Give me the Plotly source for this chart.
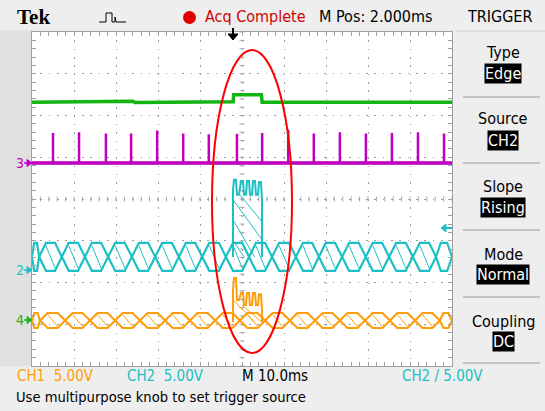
import plotly.graph_objects as go

# ---------------- data (screen divisions: x 0..10, y -4..4) ----------------
green_x = [0.0, 1.1, 1.15, 2.4, 2.45, 3.7, 3.75, 4.79, 4.80, 5.46, 5.48, 6.6, 6.65, 8.1, 8.15, 10.0]
green_y = [2.32, 2.32, 2.34, 2.34, 2.31, 2.31, 2.33, 2.33, 2.50, 2.50, 2.32, 2.32, 2.34, 2.34, 2.32, 2.32]

mag_base = 0.86
mag_spike_x = [0.50, 1.12, 1.76, 2.36, 2.98, 3.60, 4.21, 4.88, 5.48, 6.10, 6.71, 7.33, 7.95, 8.57, 9.19, 9.81]
mag_spike_top = [1.58, 1.60, 1.57, 1.57, 1.64, 1.57, 1.55, 1.56, 1.58, 1.66, 1.57, 1.60, 1.57, 1.58, 1.60, 1.57]

cyan_cross = [0.17, 0.71, 1.26, 1.81, 2.38, 2.93, 3.50, 4.05, 4.62, 5.17, 5.71, 6.29, 6.83, 7.38, 7.95, 8.50, 9.07, 9.62]
cyan_hi = -1.05
cyan_lo = -1.72

orange_cross = [0.19, 0.79, 1.38, 1.98, 2.57, 3.17, 3.76, 4.36, 4.95, 5.55, 6.14, 6.74, 7.33, 7.93, 8.52, 9.12, 9.71]
orange_hi = -2.73
orange_lo = -3.09

cyan_burst_x = [4.786, 4.786, 4.810, 4.857, 4.881, 4.929, 4.976, 5.024, 5.048, 5.095, 5.119, 5.167,
                5.190, 5.238, 5.262, 5.310, 5.333, 5.381, 5.405, 5.452, 5.476, 5.476]
cyan_burst_y = [-1.39, 0.22, 0.46, 0.46, 0.10, 0.10, 0.43, 0.43, 0.10, 0.10, 0.43, 0.43,
                0.10, 0.10, 0.43, 0.43, 0.10, 0.10, 0.41, 0.41, -0.02, -1.39]
cyan_burst_hatch_x = [4.79, 5.48, None, 4.79, 5.30, None, 4.95, 5.48, None, 4.79, 5.05]
cyan_burst_hatch_y = [-0.02, -0.98, None, -0.50, -1.39, None, 0.10, -0.55, None, -1.00, -1.39]

orange_burst_x = cyan_burst_x
orange_burst_y = [-2.95, -2.18, -1.89, -1.89, -2.42, -2.42, -2.25, -2.25, -2.54, -2.54, -2.25, -2.25,
                  -2.54, -2.54, -2.25, -2.25, -2.54, -2.54, -2.28, -2.28, -2.66, -2.95]
orange_burst_hatch_x = [4.79, 5.30, None, 5.00, 5.48]
orange_burst_hatch_y = [-2.42, -2.95, None, -2.54, -2.95]

GREEN, MAG, CYAN, ORANGE = "#12B512", "#C000C0", "#1CC0C4", "#FF9E0A"

# ---------------- helpers ----------------
W, H = 545, 411
PX0, PX1, PY0, PY1 = 32, 452, 32, 366


def rope(cross, hi, lo, phase):
    xs, ys = [0.0], [(hi + lo) / 2]
    pts = [0.0] + cross + [10.0]
    for i in range(len(pts) - 1):
        a, b = pts[i], pts[i + 1]
        lvl = hi if (i + phase) % 2 == 0 else lo
        g = b - a
        xs += [a + 0.3 * g, a + 0.7 * g, b]
        ys += [lvl, lvl, (hi + lo) / 2]
    return xs, ys


def hatch(cross, hi, lo):
    xs, ys = [], []
    pts = cross
    for i in range(len(pts) - 1):
        a, b = pts[i], pts[i + 1]
        g = b - a
        xs += [a + 0.3 * g, a + 0.7 * g, None]
        ys += [hi - 0.1 * (hi - lo), lo + 0.1 * (hi - lo), None]
    return xs, ys


fig = go.Figure()


def line(x, y, color, w=2.5):
    fig.add_trace(go.Scatter(x=x, y=y, mode="lines", line=dict(color=color, width=w, shape="linear"),
                             hoverinfo="skip", showlegend=False, connectgaps=False))


# green
line(green_x, green_y, GREEN, 3.5)

# magenta with spikes
mx, my = [0.0], [mag_base]
for sx, st in zip(mag_spike_x, mag_spike_top):
    mx += [sx, sx, sx]
    my += [mag_base, st, mag_base]
mx.append(10.0)
my.append(mag_base)
line(mx, my, MAG, 2.5)
line([0, 10], [mag_base, mag_base], MAG, 3.5)

# cyan rope
for ph in (0, 1):
    x, y = rope(cyan_cross, cyan_hi, cyan_lo, ph)
    line(x, y, CYAN, 2.2)
hx, hy = hatch(cyan_cross, cyan_hi, cyan_lo)
line(hx, hy, CYAN, 1)
line(cyan_burst_x, cyan_burst_y, CYAN, 2)
line(cyan_burst_hatch_x, cyan_burst_hatch_y, CYAN, 1)

# orange rope
for ph in (0, 1):
    x, y = rope(orange_cross, orange_hi, orange_lo, ph)
    line(x, y, ORANGE, 2.2)
hx, hy = hatch(orange_cross, orange_hi, orange_lo)
line(hx, hy, ORANGE, 1)
line(orange_burst_x, orange_burst_y, ORANGE, 2)
line(orange_burst_hatch_x, orange_burst_hatch_y, ORANGE, 1)


def px(x):
    return x / W


def py(y):
    return 1 - y / H


shapes = []
shapes.append(dict(type="rect", xref="paper", yref="paper", x0=0, x1=px(PX0), y0=py(PY1), y1=py(30),
                   fillcolor="#E1E1E1", line_width=0, layer="below"))
for k in range(-20, 21):
    yy = k * 0.2
    shapes.append(dict(type="line", xref="x", yref="y", x0=5 - 0.06, x1=5 + 0.06, y0=yy, y1=yy,
                       line=dict(color="#A8A8A8", width=1), layer="below"))
for k in range(0, 51):
    xx = k * 0.2
    shapes.append(dict(type="line", xref="x", yref="y", x0=xx, x1=xx, y0=-0.06, y1=0.06,
                       line=dict(color="#A8A8A8", width=1), layer="below"))
for yy in [97, 163, 230, 297, 363]:
    shapes.append(dict(type="line", xref="paper", yref="paper", x0=px(463), x1=px(540), y0=py(yy), y1=py(yy),
                       line=dict(color="#C4C4C4", width=2)))
shapes.append(dict(type="line", xref="paper", yref="paper", x0=px(455), x1=px(545), y0=py(31), y1=py(31),
                   line=dict(color="#D0D0D0", width=1)))
shapes.append(dict(type="circle", xref="paper", yref="paper", x0=px(212), x1=px(292), y0=py(353), y1=py(50),
                   line=dict(color="#FF0000", width=2)))
shapes.append(dict(type="circle", xref="paper", yref="paper", x0=px(183), x1=px(196), y0=py(24), y1=py(11),
                   fillcolor="#E00000", line_width=0))
shapes.append(dict(type="path", xref="paper", yref="paper",
                   path=f"M{px(233)},{py(28)} L{px(233)},{py(35)}", line=dict(color="black", width=2)))
shapes.append(dict(type="path", xref="paper", yref="paper",
                   path=f"M{px(228)},{py(34)} L{px(238)},{py(34)} L{px(233)},{py(40)} Z",
                   fillcolor="black", line=dict(color="black", width=1)))
shapes.append(dict(type="path", xref="paper", yref="paper",
                   path=(f"M{px(99)},{py(22)} L{px(106)},{py(22)} L{px(106)},{py(13)} L{px(112)},{py(13)} "
                         f"L{px(112)},{py(22)} L{px(115)},{py(22)} L{px(115)},{py(17)} L{px(116)},{py(22)} L{px(126)},{py(22)}"),
                   line=dict(color="black", width=1)))


def arrow_right(xa, ya, color):
    shapes.append(dict(type="path", xref="paper", yref="paper",
                       path=f"M{px(xa)},{py(ya - 3.5)} L{px(xa + 5)},{py(ya)} L{px(xa)},{py(ya + 3.5)} Z",
                       fillcolor=color, line=dict(color=color, width=1)))
    shapes.append(dict(type="line", xref="paper", yref="paper", x0=px(xa - 3), x1=px(xa), y0=py(ya), y1=py(ya),
                       line=dict(color=color, width=1.5)))


arrow_right(27, 163, MAG)
arrow_right(27, 270, CYAN)
arrow_right(27, 320, "#22B022")
shapes.append(dict(type="path", xref="paper", yref="paper",
                   path=f"M{px(446)},{py(224)} L{px(441)},{py(228)} L{px(446)},{py(232)} Z",
                   fillcolor=CYAN, line=dict(color=CYAN, width=1)))
shapes.append(dict(type="line", xref="paper", yref="paper", x0=px(445), x1=px(452), y0=py(228), y1=py(228),
                   line=dict(color=CYAN, width=2)))

FONT = "Liberation Sans Narrow, DejaVu Sans Condensed, Arial Narrow, sans-serif"
ann = []


def text(x, y, s, color="black", size=15, anchor="left", family=FONT, bg=None, bold=False):
    d = dict(xref="paper", yref="paper", x=px(x), y=py(y), text=("<b>%s</b>" % s) if bold else s,
             showarrow=False, xanchor=anchor, yanchor="middle",
             font=dict(family=family, size=size, color=color))
    if bg:
        d.update(bgcolor=bg, borderpad=0)
    ann.append(d)


text(15, 17, "Tek", size=21, family="Liberation Serif, DejaVu Serif, serif", bold=True)
text(203, 17, "Acq Complete", color="#D00000", size=16)
text(317, 17, "M Pos: 2.000ms", size=16)
text(499, 17, "TRIGGER", size=16, anchor="center")

for lab, val, yl, yv in [("Type", "Edge", 52, 73), ("Source", "CH2", 119, 140), ("Slope", "Rising", 186, 207),
                         ("Mode", "Normal", 254, 274), ("Coupling", "DC", 321, 341)]:
    text(503, yl, lab, size=16, anchor="center")
    text(503, yv, val, color="white", size=16, anchor="center", bg="black")

text(20, 163, "3", color=MAG, size=14, anchor="center")
text(20, 270, "2", color=CYAN, size=14, anchor="center")
text(20, 320, "4", color="#22B022", size=14, anchor="center")

text(15, 376, "CH1  5.00V", color=ORANGE, size=15)
text(125, 376, "CH2  5.00V", color=CYAN, size=15)
text(240, 376, "M 10.0ms", size=15)
text(400, 376, "CH2 / 5.00V", color=CYAN, size=15)
text(14, 396, "Use multipurpose knob to set trigger source", size=14.6)

axis_common = dict(showticklabels=False, showgrid=True, gridcolor="#9A9A9A", griddash="1.5px,6.85px",
                   gridwidth=1, zeroline=False, showline=True, linecolor="#A0A0A0", linewidth=1,
                   mirror="ticks", ticks="inside", ticklen=4, tickcolor="#A0A0A0", dtick=1, tick0=0,
                   fixedrange=True,
                   minor=dict(dtick=0.2, ticks="inside", ticklen=4, tickcolor="#A0A0A0", showgrid=False))

fig.update_layout(
    width=W, height=H, margin=dict(l=0, r=0, t=0, b=0),
    paper_bgcolor="#EEEEEE", plot_bgcolor="white",
    xaxis=dict(range=[0, 10], domain=[px(PX0), px(PX1)], **axis_common),
    yaxis=dict(range=[-4, 4], domain=[py(PY1), py(PY0)], **axis_common),
    shapes=shapes, annotations=ann, showlegend=False,
)

fig.write_html("out.html")
